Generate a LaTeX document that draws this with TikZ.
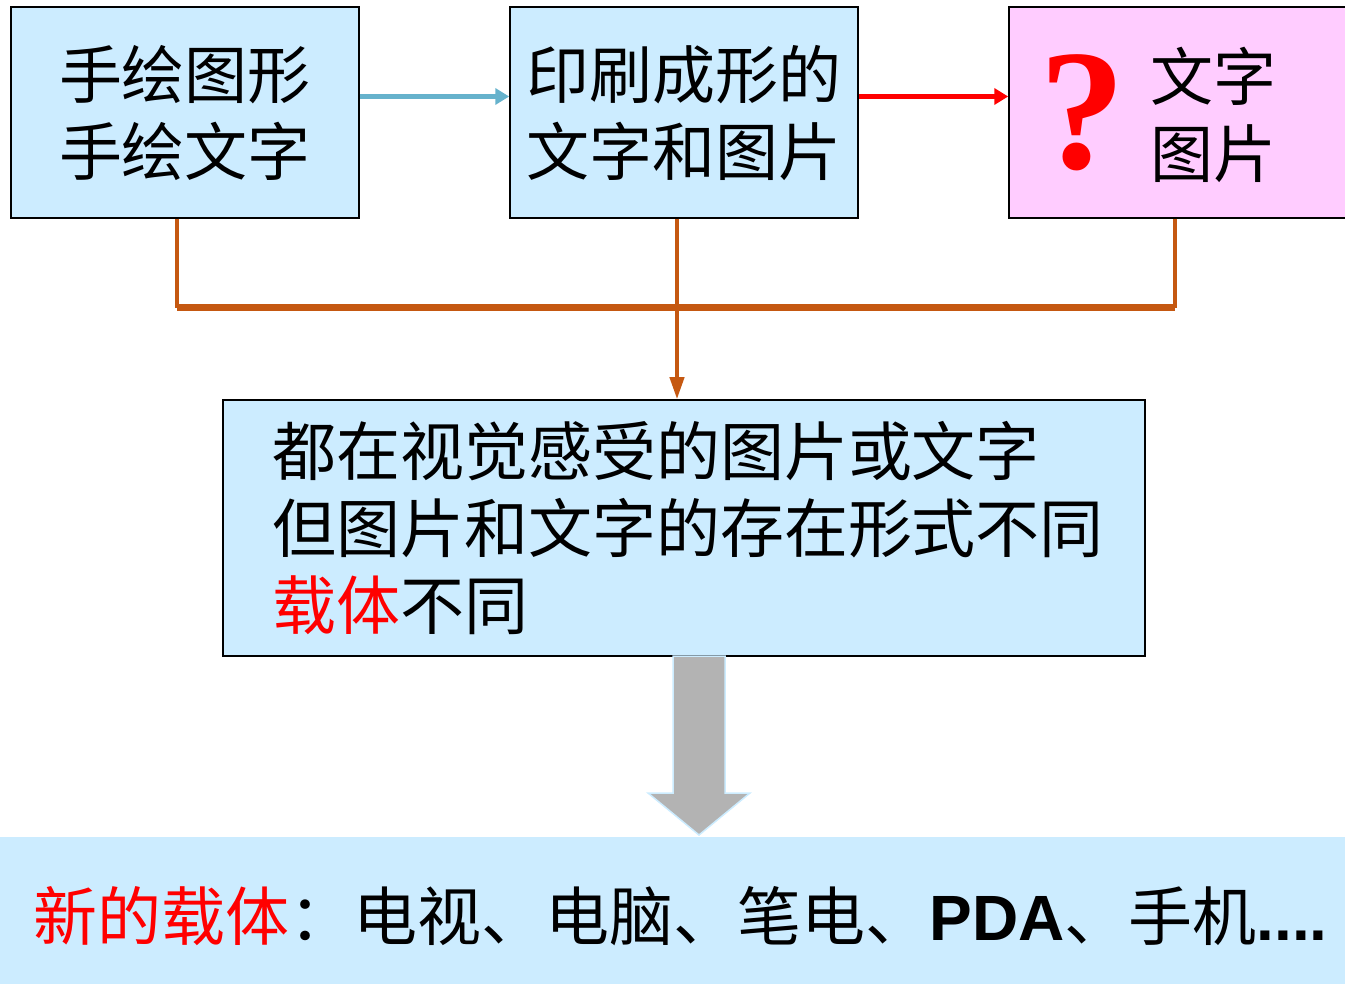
\documentclass[tikz,border=0pt]{standalone}
\usepackage{fontspec}
\setmainfont{Liberation Serif}
\newfontfamily\cjk{Noto Sans CJK SC}
\newfontfamily\arial{Liberation Sans}
\usetikzlibrary{arrows.meta}

\definecolor{boxblue}{RGB}{204,236,255}
\definecolor{boxpink}{RGB}{255,204,255}
\definecolor{linkblue}{RGB}{102,178,204}
\definecolor{busorange}{RGB}{197,88,17}
\definecolor{arrowgray}{RGB}{179,179,179}

\begin{document}
\begin{tikzpicture}[x=0.5pt,y=-0.5pt]
        \tikzstyle{every node}=[font=\cjk\fontsize{31.5}{38.5}\selectfont, inner sep=0pt]
        \tikzstyle{box}=[draw=black, line width=0.75pt, fill=boxblue, minimum width=174pt, minimum height=105.5pt, align=center]
        \tikzstyle{link}=[line width=2.5pt, -{Triangle[length=7pt,width=8pt]}]
        \tikzstyle{bus}=[draw=busorange, line width=2pt]
        \useasboundingbox (0,0) rectangle (1345,984);
        \clip (0,0) rectangle (1345,984);
        \node[box] (hand) at (185,112.5) {手绘图形\\手绘文字};
        \node[box] (print) at (684,112.5) {印刷成形的\\文字和图片};
        \node[box, fill=boxpink, minimum width=180pt] (unknown) at (1189,112.5) {};
        \node[text=red, font=\bfseries\fontsize{86}{86}\selectfont] (qmark) at (1082,113) {?};
        \node[align=center] (unknowntext) at (1213,115) {文字\\图片};
        \draw[link, linkblue] ([yshift=8pt]hand.east) -- ([yshift=8pt]print.west);
        \draw[link, red] ([yshift=8pt]print.east) -- ([yshift=8pt]unknown.west);
        \node[box, font=\cjk\fontsize{32}{38.5}\selectfont, minimum width=461pt, minimum height=128pt, inner xsep=24.5pt, text width=412pt, align=left] (summary) at (684,528) {都在视觉感受的图片或文字\\但图片和文字的存在形式不同\\\textcolor{red}{载体}不同};
        \coordinate (busL) at (177,308);
        \coordinate (busM) at (677,308);
        \coordinate (busR) at (1175,308);
        \draw[bus] (hand.south -| busL) -- (busL);
        \draw[bus] (unknown.south -| busR) -- (busR);
        \draw[bus, line width=3.5pt] (busL) -- (busR);
        \draw[bus, -{Triangle[length=11pt,width=7pt]}] (print.south -| busM) -- (busM |- summary.north);
        \node[fill=boxblue, minimum width=672.5pt, minimum height=73.5pt, anchor=north west] (band) at (0,837) {};
        \filldraw[fill=arrowgray, draw=boxblue, line width=0.75pt] (673,656) -- (725,656) -- (725,793) -- (750,793) -- (699,835) -- (648,793) -- (673,793) -- cycle;
        \node[anchor=base west, font=\cjk\fontsize{32}{38.5}\selectfont] (devices) at (33,940) {\textcolor{red}{新的载体}：电视、电脑、笔电、{\arial\bfseries PDA}、手机{\arial\bfseries ....}};
\end{tikzpicture}
\end{document}
